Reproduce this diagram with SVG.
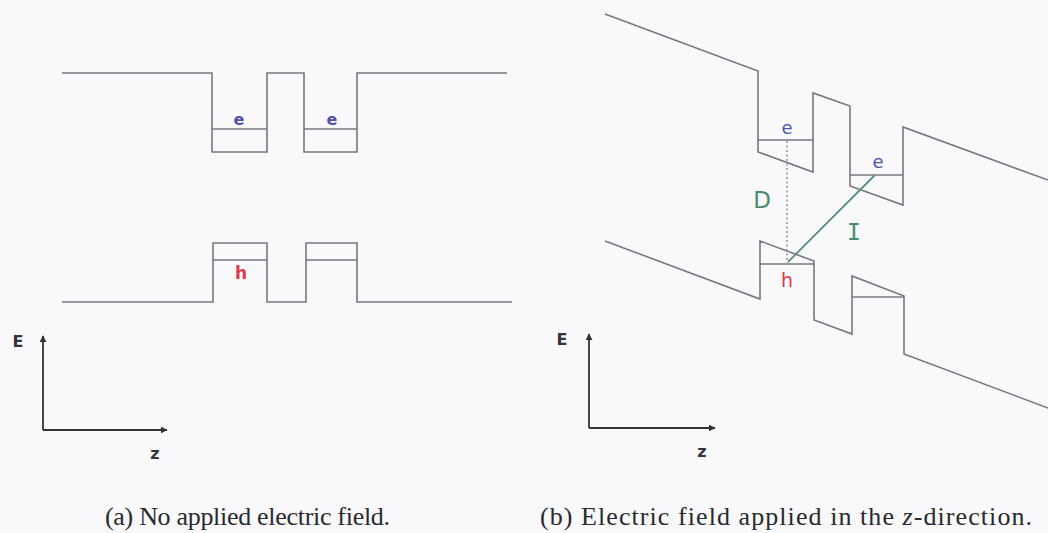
<svg xmlns="http://www.w3.org/2000/svg" width="1048" height="533" viewBox="0 0 1048 533">
<style>
.band{fill:none;stroke:#77777f;stroke-width:1.6;stroke-linejoin:miter}
.axis{fill:none;stroke:#333338;stroke-width:1.8}
.lbl{font-family:"DejaVu Sans",sans-serif}
.ax{font-family:"DejaVu Sans",sans-serif;font-weight:bold;fill:#333338;font-size:16px}
.e{fill:#5050b0}
.h{fill:#e23848}
.g{fill:#4a8a72}
.cap{font-family:"Liberation Serif",serif;font-size:26px;fill:#2a2a2e}
</style>
<defs>
<marker id="arr" viewBox="0 0 10 10" refX="9" refY="5" markerWidth="7" markerHeight="7" markerUnits="userSpaceOnUse" orient="auto">
<path d="M0,0 L10,5 L0,10 z" fill="#333338"/>
</marker>
</defs>
<rect width="1048" height="533" fill="#f9f9fb"/>

<g id="panel-a">
<g id="a-conduction">
<polyline class="band" points="62,73 212,73 212,152 267,152 267,73 304,73 304,152 357,152 357,73 507,73"/>
<line class="band" x1="212" y1="129" x2="267" y2="129"/>
<line class="band" x1="304" y1="129" x2="357" y2="129"/>
<text class="lbl e" x="239" y="125" font-size="16" font-weight="bold" text-anchor="middle">e</text>
<text class="lbl e" x="332" y="125" font-size="16" font-weight="bold" text-anchor="middle">e</text>
</g>
<g id="a-valence">
<polyline class="band" points="62,302 213,302 213,243 267,243 267,302 306,302 306,243 357,243 357,302 512,302"/>
<line class="band" x1="213" y1="260" x2="267" y2="260"/>
<line class="band" x1="306" y1="260" x2="357" y2="260"/>
<text class="lbl h" x="241" y="279" font-size="17" font-weight="bold" text-anchor="middle">h</text>
</g>
<g id="a-axes">
<line class="axis" x1="43" y1="430" x2="167" y2="430" marker-end="url(#arr)"/>
<line class="axis" x1="43" y1="430" x2="43" y2="336" marker-end="url(#arr)"/>
<text class="ax" x="18" y="347" text-anchor="middle">E</text>
<text class="ax" x="155" y="459" text-anchor="middle">z</text>
</g>
<text class="cap" x="105" y="525" textLength="285" lengthAdjust="spacing">(a) No applied electric field.</text>
</g>

<g id="panel-b">
<g id="b-conduction">
<polyline class="band" points="605,14 758,71 758,152 813,172 813,93 850,106 850,186 903,205 903,127 1048,180"/>
<line class="band" x1="758" y1="140" x2="813" y2="140"/>
<line class="band" x1="850" y1="175" x2="903" y2="175"/>
<text class="lbl e" x="787" y="134" font-size="18" text-anchor="middle">e</text>
<text class="lbl e" x="878" y="168" font-size="18" text-anchor="middle">e</text>
</g>
<g id="b-valence">
<polyline class="band" points="605,241 760,299 760,241 814,261 814,320 852,334 852,276 904,296 904,354 1048,408"/>
<line class="band" x1="760" y1="264" x2="814" y2="264"/>
<line class="band" x1="852" y1="297" x2="904" y2="297"/>
<text class="lbl h" x="787" y="287" font-size="19" text-anchor="middle">h</text>
</g>
<g id="b-connectors">
<line x1="787" y1="141" x2="787" y2="263" stroke="#8a8a92" stroke-width="1.4" stroke-dasharray="2,2.5"/>
<line x1="788" y1="262" x2="875" y2="175" stroke="#5a9080" stroke-width="1.8"/>
</g>
<text class="lbl g" x="762" y="208" font-size="23" text-anchor="middle">D</text>
<text class="g" x="854" y="240" font-size="23" font-family="DejaVu Sans Mono, monospace" text-anchor="middle">I</text>
<g id="b-axes">
<line class="axis" x1="589" y1="428" x2="715" y2="428" marker-end="url(#arr)"/>
<line class="axis" x1="589" y1="428" x2="589" y2="334" marker-end="url(#arr)"/>
<text class="ax" x="562" y="345" text-anchor="middle">E</text>
<text class="ax" x="702" y="457" text-anchor="middle">z</text>
</g>
<text class="cap" x="540" y="525" font-size="27.5" textLength="492" lengthAdjust="spacing">(b) Electric field applied in the <tspan font-style="italic">z</tspan>-direction.</text>
</g>
</svg>
